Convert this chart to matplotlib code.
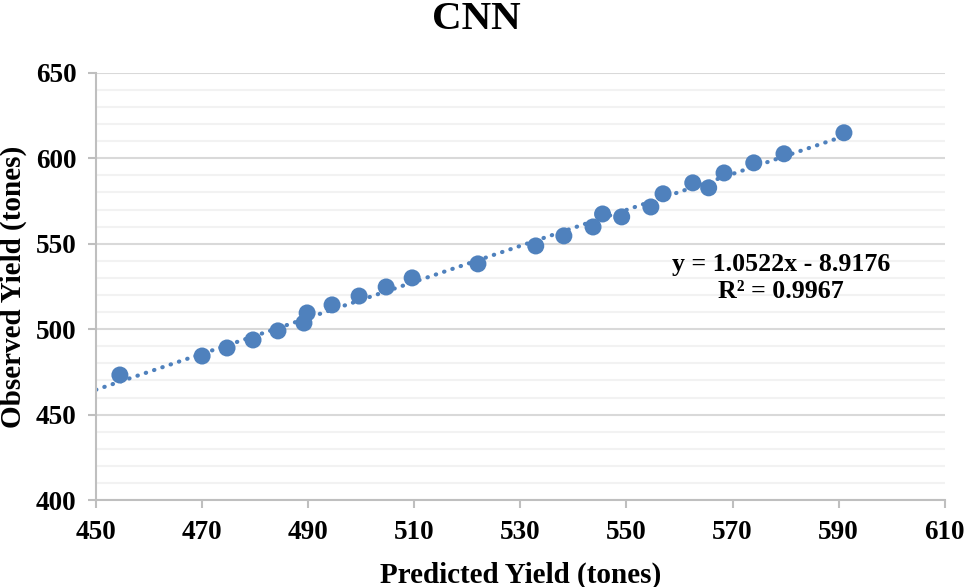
import numpy as np
import matplotlib.pyplot as plt
from matplotlib.ticker import MultipleLocator

# Valores
predicted = [454.5, 470.0, 474.7, 479.6, 484.3, 489.2, 489.8, 494.5, 499.6,
             504.7, 509.6, 522.0, 532.9, 538.2, 543.7, 545.5, 549.1, 554.6,
             556.9, 562.5, 565.5, 568.4, 574.0, 579.7, 591.0]
observed = [473.2, 484.3, 489.0, 493.7, 499.0, 503.6, 509.5, 514.2, 519.4,
            524.7, 530.0, 538.2, 548.7, 554.6, 559.8, 567.4, 565.7, 571.5,
            579.2, 585.6, 582.7, 591.4, 597.3, 602.6, 614.9]

# Linha de tendência (equação mostrada no gráfico)
coef_angular = 1.0522
coef_linear = -8.9176
r2 = 0.9967
trend_range = [450, 591]

xticks = [450, 470, 490, 510, 530, 550, 570, 590, 610]
yticks = [400, 450, 500, 550, 600, 650]

plt.rcParams['font.family'] = ['Liberation Serif', 'DejaVu Serif']
plt.rcParams['font.weight'] = 'bold'

fig = plt.figure(figsize=(9.64, 5.87), dpi=100)
ax = fig.add_axes([0.0996, 0.148, 0.8804, 0.728])

x_line = np.array(trend_range, dtype=float)
ax.plot(x_line, coef_angular * x_line + coef_linear,
        color='#4F81BD', linewidth=3, linestyle=(0, (0.1, 2.0)),
        dash_capstyle='round', zorder=2)

ax.scatter(predicted, observed, s=150, color='#4F81BD', edgecolors='none', zorder=3)

ax.set_xlim(450, 610)
ax.set_ylim(400, 650)
ax.set_xticks(xticks)
ax.set_yticks(yticks)
ax.yaxis.set_minor_locator(MultipleLocator(10))

ax.grid(True, axis='y', which='major', color='#D9D9D9', linewidth=1.5, zorder=0)
ax.grid(True, axis='y', which='minor', color='#F2F2F2', linewidth=1.5, zorder=0)
ax.set_axisbelow(True)

for side in ['top', 'right']:
    ax.spines[side].set_visible(False)
for side in ['left', 'bottom']:
    ax.spines[side].set_color('#BFBFBF')
    ax.spines[side].set_linewidth(1.5)

ax.tick_params(axis='both', which='major', direction='out', length=6,
               width=1.5, color='#BFBFBF', labelsize=19.5, pad=8)
ax.tick_params(axis='y', which='minor', length=0)
for lbl in ax.get_xticklabels() + ax.get_yticklabels():
    lbl.set_fontweight('bold')

ax.set_xlabel("Predicted Yield (tones)", fontsize=21, fontweight='bold', labelpad=12)
ax.set_ylabel("Observed Yield (tones)", fontsize=21, fontweight='bold', labelpad=6)
fig.text(0.494, 0.999, "CNN", fontsize=29.5, fontweight='bold', ha='center', va='top')

ax.text(0.807, 0.52, f"y = {coef_angular:.4f}x - {abs(coef_linear):.4f}\nR² = {r2:.4f}",
        transform=ax.transAxes, fontsize=18.6, fontweight='bold',
        ha='center', va='center', linespacing=1.2)

fig.savefig("out.png", dpi=100)
